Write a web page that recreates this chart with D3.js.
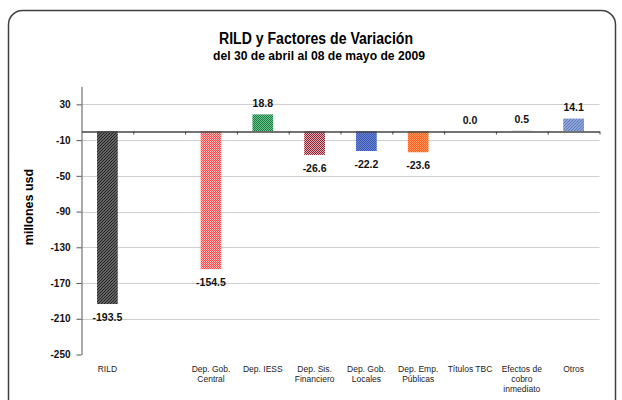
<!DOCTYPE html>
<html>
<head>
<meta charset="utf-8">
<script src="https://cdn.jsdelivr.net/npm/d3@7"></script>
<style>
  body { margin: 0; background: #fff; }
  svg { display: block; font-family: "Liberation Sans", Arial, sans-serif; }
</style>
</head>
<body>
<div class="svg-container"></div>
<script>
// data
const categories = [
  ["RILD"], [""], ["Dep. Gob.", "Central"], ["Dep. IESS"], ["Dep. Sis.", "Financiero"],
  ["Dep. Gob.", "Locales"], ["Dep. Emp.", "Públicas"], ["Títulos TBC"],
  ["Efectos de", "cobro", "inmediato"], ["Otros"]
];
const values = [-193.5, null, -154.5, 18.8, -26.6, -22.2, -23.6, 0.0, 0.5, 14.1];
const yTicks = [30, -10, -50, -90, -130, -170, -210, -250];
const title = "RILD y Factores de Variación";
const subtitle = "del 30 de abril al 08 de mayo de 2009";
const yLabel = "millones usd";

const w = 622;
const h = 400;
const margin = {top: 86.5, right: 22.5, bottom: 45.5, left: 81.5};
// plain hyphen for negatives, like the original
const f = v => d3.format(".1f")(v).replace("−", "-");
const fTick = v => String(v);

const svg = d3.select(".svg-container")
  .append("svg")
  .attr("width", w)
  .attr("height", h);

// patterns, one per bar
const defs = svg.append("defs");
function hatch(id, bg, fg, sw) {
  const p = defs.append("pattern").attr("id", id)
    .attr("patternUnits", "userSpaceOnUse").attr("width", 3).attr("height", 3);
  p.append("rect").attr("width", 3).attr("height", 3).attr("fill", bg);
  p.append("path").attr("d", "M-1,1 l2,-2 M0,3 l3,-3 M2,4 l2,-2")
    .attr("stroke", fg).attr("stroke-width", sw);
}
function checker(id, bg, fg) {
  const p = defs.append("pattern").attr("id", id)
    .attr("patternUnits", "userSpaceOnUse").attr("width", 2).attr("height", 2);
  p.append("rect").attr("width", 2).attr("height", 2).attr("fill", bg);
  p.append("rect").attr("width", 1).attr("height", 1).attr("fill", fg);
  p.append("rect").attr("x", 1).attr("y", 1).attr("width", 1).attr("height", 1).attr("fill", fg);
}
hatch("p0", "#9a9a9a", "#222", 1.3);
checker("p2", "#ffc0c0", "#ff4848");
checker("p3", "#70c090", "#168040");
checker("p4", "#e0b0b8", "#902030");
checker("p5", "#6a84d0", "#3a58b8");
checker("p6", "#ff9a60", "#ff6020");
hatch("p9", "#a8b8e0", "#5a78c0", 1.2);
const fills = ["url(#p0)", "none", "url(#p2)", "url(#p3)", "url(#p4)", "url(#p5)", "url(#p6)", "#aaa", "#aaa", "url(#p9)"];

// frame
svg.append("rect")
  .attr("x", 8.5).attr("y", 10.5)
  .attr("width", 607).attr("height", 430)
  .attr("rx", 14)
  .style("fill", "none").style("stroke", "#404040").style("stroke-width", 1.5);

// titles
svg.append("text")
  .attr("x", 316).attr("y", 44)
  .attr("text-anchor", "middle")
  .attr("textLength", 194).attr("lengthAdjust", "spacingAndGlyphs")
  .style("font-size", "16px").style("font-weight", "bold")
  .text(title);
svg.append("text")
  .attr("x", 319).attr("y", 60)
  .attr("text-anchor", "middle")
  .attr("textLength", 212).attr("lengthAdjust", "spacingAndGlyphs")
  .style("font-size", "12px").style("font-weight", "bold")
  .text(subtitle);

svg.append("text")
  .attr("transform", "translate(33,207) rotate(-90)")
  .attr("text-anchor", "middle")
  .style("font-size", "12.5px").style("font-weight", "bold")
  .text(yLabel);

// scales
const x = d3.scaleBand()
  .domain(d3.range(categories.length))
  .range([margin.left, w - margin.right]);
const y = d3.scaleLinear()
  .domain([-250, 50])
  .range([h - margin.bottom, margin.top]);
const bw = x.bandwidth() * 0.4;

// gridlines
svg.append("g").selectAll("line")
  .data(yTicks.filter(d => d > -250)).enter()
  .append("line")
  .attr("x1", margin.left).attr("x2", w - margin.right)
  .attr("y1", d => Math.round(y(d)) + 0.5).attr("y2", d => Math.round(y(d)) + 0.5)
  .style("stroke", "#cfcfcf").style("stroke-width", 1);

// y axis
const yAxis = svg.append("g")
  .attr("transform", `translate(${margin.left},0)`)
  .call(d3.axisLeft(y).tickValues(yTicks).tickFormat(fTick).tickSize(5).tickSizeOuter(0).tickPadding(6));
yAxis.select(".domain").style("stroke", "#555");
yAxis.selectAll(".tick line").style("stroke", "#555");
yAxis.selectAll(".tick text")
  .style("font-family", "Liberation Sans, Arial, sans-serif")
  .style("font-size", "10px").style("font-weight", "bold").style("fill", "#111");

// bars
svg.append("g").selectAll("rect")
  .data(values.map((v, i) => ({v, i})).filter(d => d.v !== null)).enter()
  .append("rect")
  .attr("x", d => x(d.i) + (x.bandwidth() - bw) / 2)
  .attr("y", d => y(Math.max(0, d.v)))
  .attr("width", bw)
  .attr("height", d => Math.abs(y(d.v) - y(0)))
  .style("fill", d => fills[d.i]);

// zero axis with ticks at category boundaries
const xIdx = d3.scaleLinear().domain([0, categories.length]).range([margin.left, w - margin.right]);
const xAxis = svg.append("g")
  .attr("transform", `translate(0,${Math.round(y(0)) + 0.5})`)
  .call(d3.axisBottom(xIdx).tickValues(d3.range(1, categories.length + 1)).tickFormat("").tickSize(3).tickSizeOuter(0));
xAxis.select(".domain").style("stroke", "#444").style("stroke-width", 1.3);
xAxis.selectAll(".tick line").style("stroke", "#444");

// value labels
svg.append("g").selectAll("text")
  .data(values.map((v, i) => ({v, i})).filter(d => d.v !== null)).enter()
  .append("text")
  .attr("x", d => x(d.i) + x.bandwidth() / 2)
  .attr("y", d => d.v < 0 ? y(d.v) + 17 : y(d.v) - 7.5)
  .attr("text-anchor", "middle")
  .style("font-size", "10.5px").style("font-weight", "bold").style("fill", "#111")
  .text(d => f(d.v));

// category labels
const cat = svg.append("g").selectAll("text")
  .data(categories).enter()
  .append("text")
  .attr("x", (d, i) => x(i) + x.bandwidth() / 2)
  .attr("y", 372)
  .attr("text-anchor", "middle")
  .style("font-size", "8.5px").style("fill", "#222");
cat.selectAll("tspan")
  .data(d => d).enter()
  .append("tspan")
  .attr("x", function() { return d3.select(this.parentNode).attr("x"); })
  .attr("dy", (d, i) => i ? 10 : 0)
  .text(d => d);
</script>
</body>
</html>
